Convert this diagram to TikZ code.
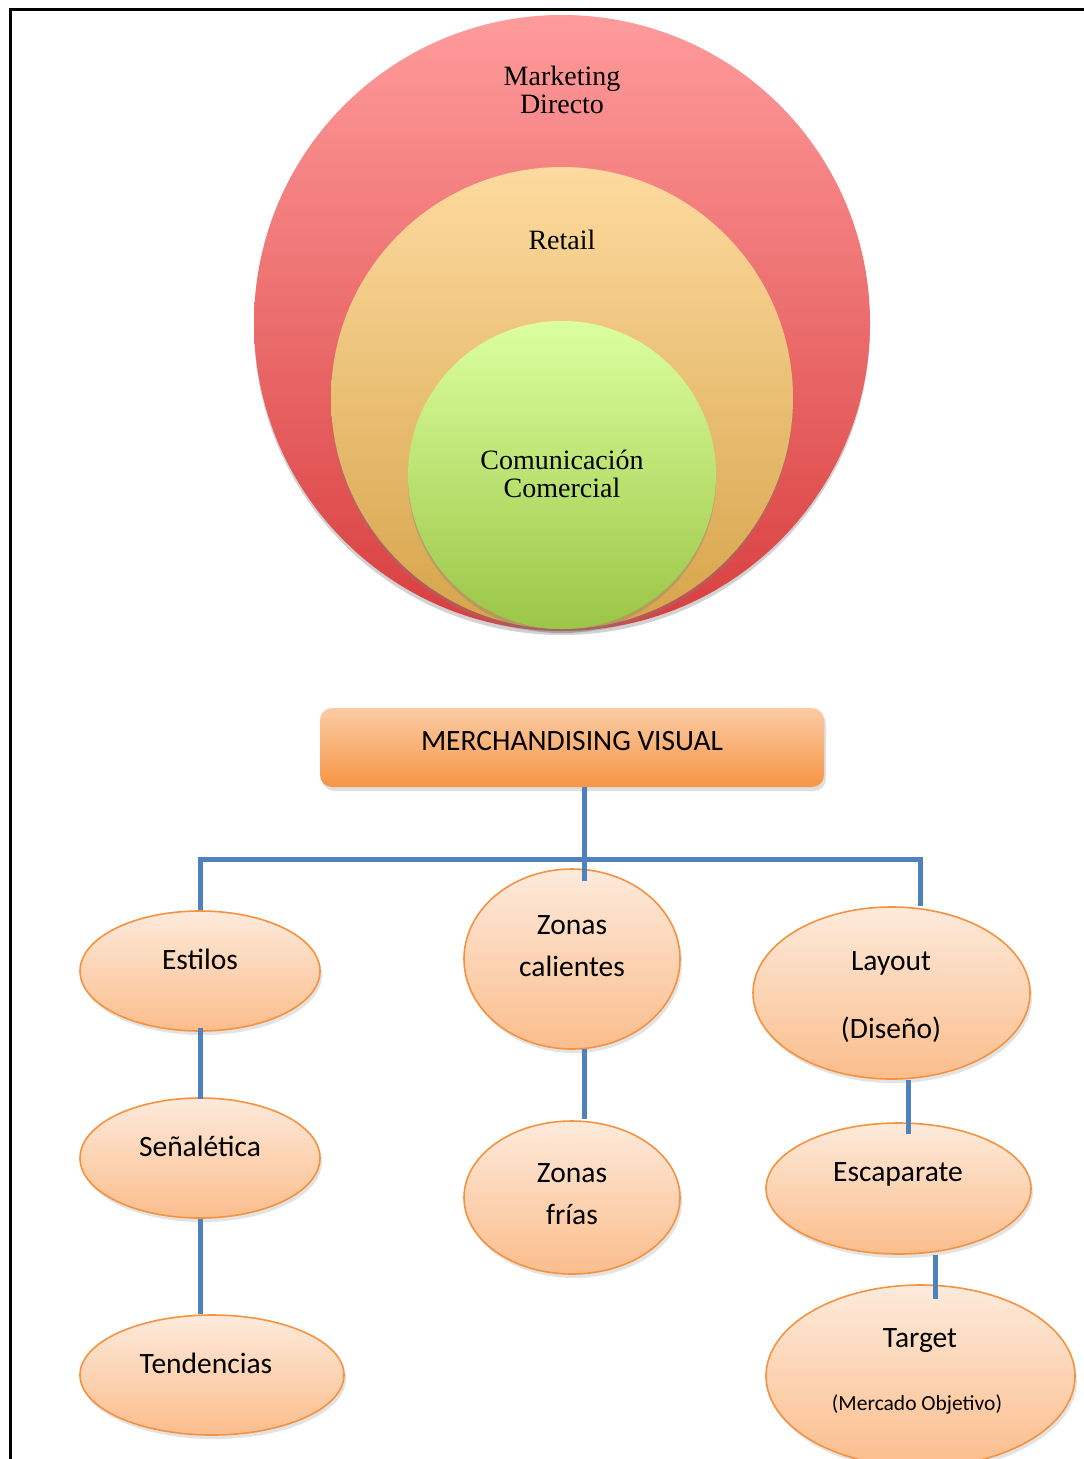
\documentclass[tikz,border=0pt]{standalone}
\usepackage{fontspec}
\setmainfont{Carlito}
\newfontfamily\circfont{Liberation Serif}
\usetikzlibrary{shapes.geometric,shadows,calc}
\definecolor{ellorange}{HTML}{F49240}
\definecolor{elltop}{HTML}{FDEADB}
\definecolor{ellbot}{HTML}{FBBD8C}
\definecolor{connblue}{HTML}{4F81BD}
\definecolor{boxtop}{HTML}{FBCBA3}
\definecolor{boxbot}{HTML}{F69546}
\definecolor{redtop}{HTML}{FF9B9B}
\definecolor{redmid}{HTML}{EE8383}
\definecolor{redbot}{HTML}{D83E3E}
\definecolor{ortop}{HTML}{FDDA9F}
\definecolor{ormid}{HTML}{F0C985}
\definecolor{orbot}{HTML}{D6A44A}
\definecolor{grtop}{HTML}{DCFF9F}
\definecolor{grmid}{HTML}{C5EB85}
\definecolor{grbot}{HTML}{9BC646}
\begin{document}
\begin{tikzpicture}[x=1pt,y=-1pt,
  ell/.style={ellipse, draw=ellorange, line width=1.6pt, top color=elltop, bottom color=ellbot, inner sep=0pt,
    drop shadow={opacity=0.22, shadow xshift=2pt, shadow yshift=-4pt}},
  conn/.style={draw=connblue, line width=5pt},
  lbl/.style={font=\fontsize{29.5}{34}\selectfont, inner sep=0pt, align=center},
  clbl/.style={font=\circfont\fontsize{28}{28}\selectfont, inner sep=0pt, align=center},
  circshadow/.style={drop shadow={opacity=0.35, shadow xshift=0pt, shadow yshift=-4pt}}
]
\useasboundingbox (0,0) rectangle (1084,1459);
\fill[white] (0,0) rectangle (1084,1459);
% frame
\draw[line width=3pt] (10,1480) -- (10,9.5) -- (1100,9.5);

% circles
\path[circshadow, top color=redtop, middle color=redmid, bottom color=redbot] (562,323) circle (308);
\path[circshadow, top color=ortop, middle color=ormid, bottom color=orbot] (562,398) circle (231);
\path[circshadow, top color=grtop, middle color=grmid, bottom color=grbot] (562,475) circle (154);
\node[clbl] (md) at (562,90) {Marketing\\Directo};
\node[clbl] (rt) at (562,240) {Retail};
\node[clbl] (cc) at (562,474) {Comunicación\\Comercial};

% main box
\node[rounded corners=12pt, minimum width=504pt, minimum height=79pt, top color=boxtop, bottom color=boxbot,
  drop shadow={opacity=0.25, shadow xshift=2pt, shadow yshift=-4pt}] (mv) at (572,747.5) {};
\node[lbl] (mvt) at (572,741) {MERCHANDISING VISUAL};

% ellipses
\node[ell, minimum width=240pt, minimum height=120pt] (est) at (200,971) {};
\node[ell, minimum width=240pt, minimum height=120pt] (sen) at (200,1158) {};
\node[ell, minimum width=264pt, minimum height=120pt] (ten) at (212,1375) {};
\node[ell, minimum width=216pt, minimum height=180pt] (zc) at (572,959) {};
\node[ell, minimum width=216pt, minimum height=153pt] (zf) at (572,1197.5) {};
\node[ell, minimum width=277pt, minimum height=172pt] (lay) at (891.5,993) {};
\node[ell, minimum width=265pt, minimum height=131pt] (esc) at (898.5,1188.5) {};
\node[ell, minimum width=309pt, minimum height=182pt] (tgt) at (920.5,1376) {};

\node[lbl] (t1) at (200,959) {Estilos};
\node[lbl] (t2) at (200,1146) {Señalética};
\node[lbl] (t3) at (206,1363) {Tendencias};
\node[lbl] (t4) at (572,925) {Zonas};
\node[lbl] (t5) at (572,966) {calientes};
\node[lbl] (t6) at (572,1173) {Zonas};
\node[lbl] (t7) at (572,1214) {frías};
\node[lbl] (t8) at (891,963) {Layout};
\node[lbl] (t9) at (891,1030) {(Diseño)};
\node[lbl] (t10) at (898,1174) {Escaparate};
\node[lbl] (t11) at (920,1341) {Target};
\node[inner sep=0pt, font=\fontsize{21.5}{25}\selectfont] (t12) at (917,1404) {(Mercado Objetivo)};

% connectors
\coordinate (hl) at (200,859);
\coordinate (hr) at (920,859);
\draw[conn] (est.north) -- (hl) -- (hr) -- (hr |- lay.north);
\draw[conn] ($(mv.south)+(12,0)$) -- ($(zc.north)+(12,13)$);
\draw[conn] ($(est.south)+(0,-4)$) -- ($(sen.north)+(0,2)$);
\draw[conn] (sen.south) -- (ten.north -| sen.south);
\draw[conn] ($(zc.south)+(12,-1)$) -- ($(zf.north)+(12,-1)$);
\draw[conn] ($(lay.south)+(17,0)$) -- ($(esc.north)+(10,12)$);
\draw[conn] ($(esc.south)+(37,0)$) -- ($(tgt.north)+(15,15)$);
\end{tikzpicture}
\end{document}
